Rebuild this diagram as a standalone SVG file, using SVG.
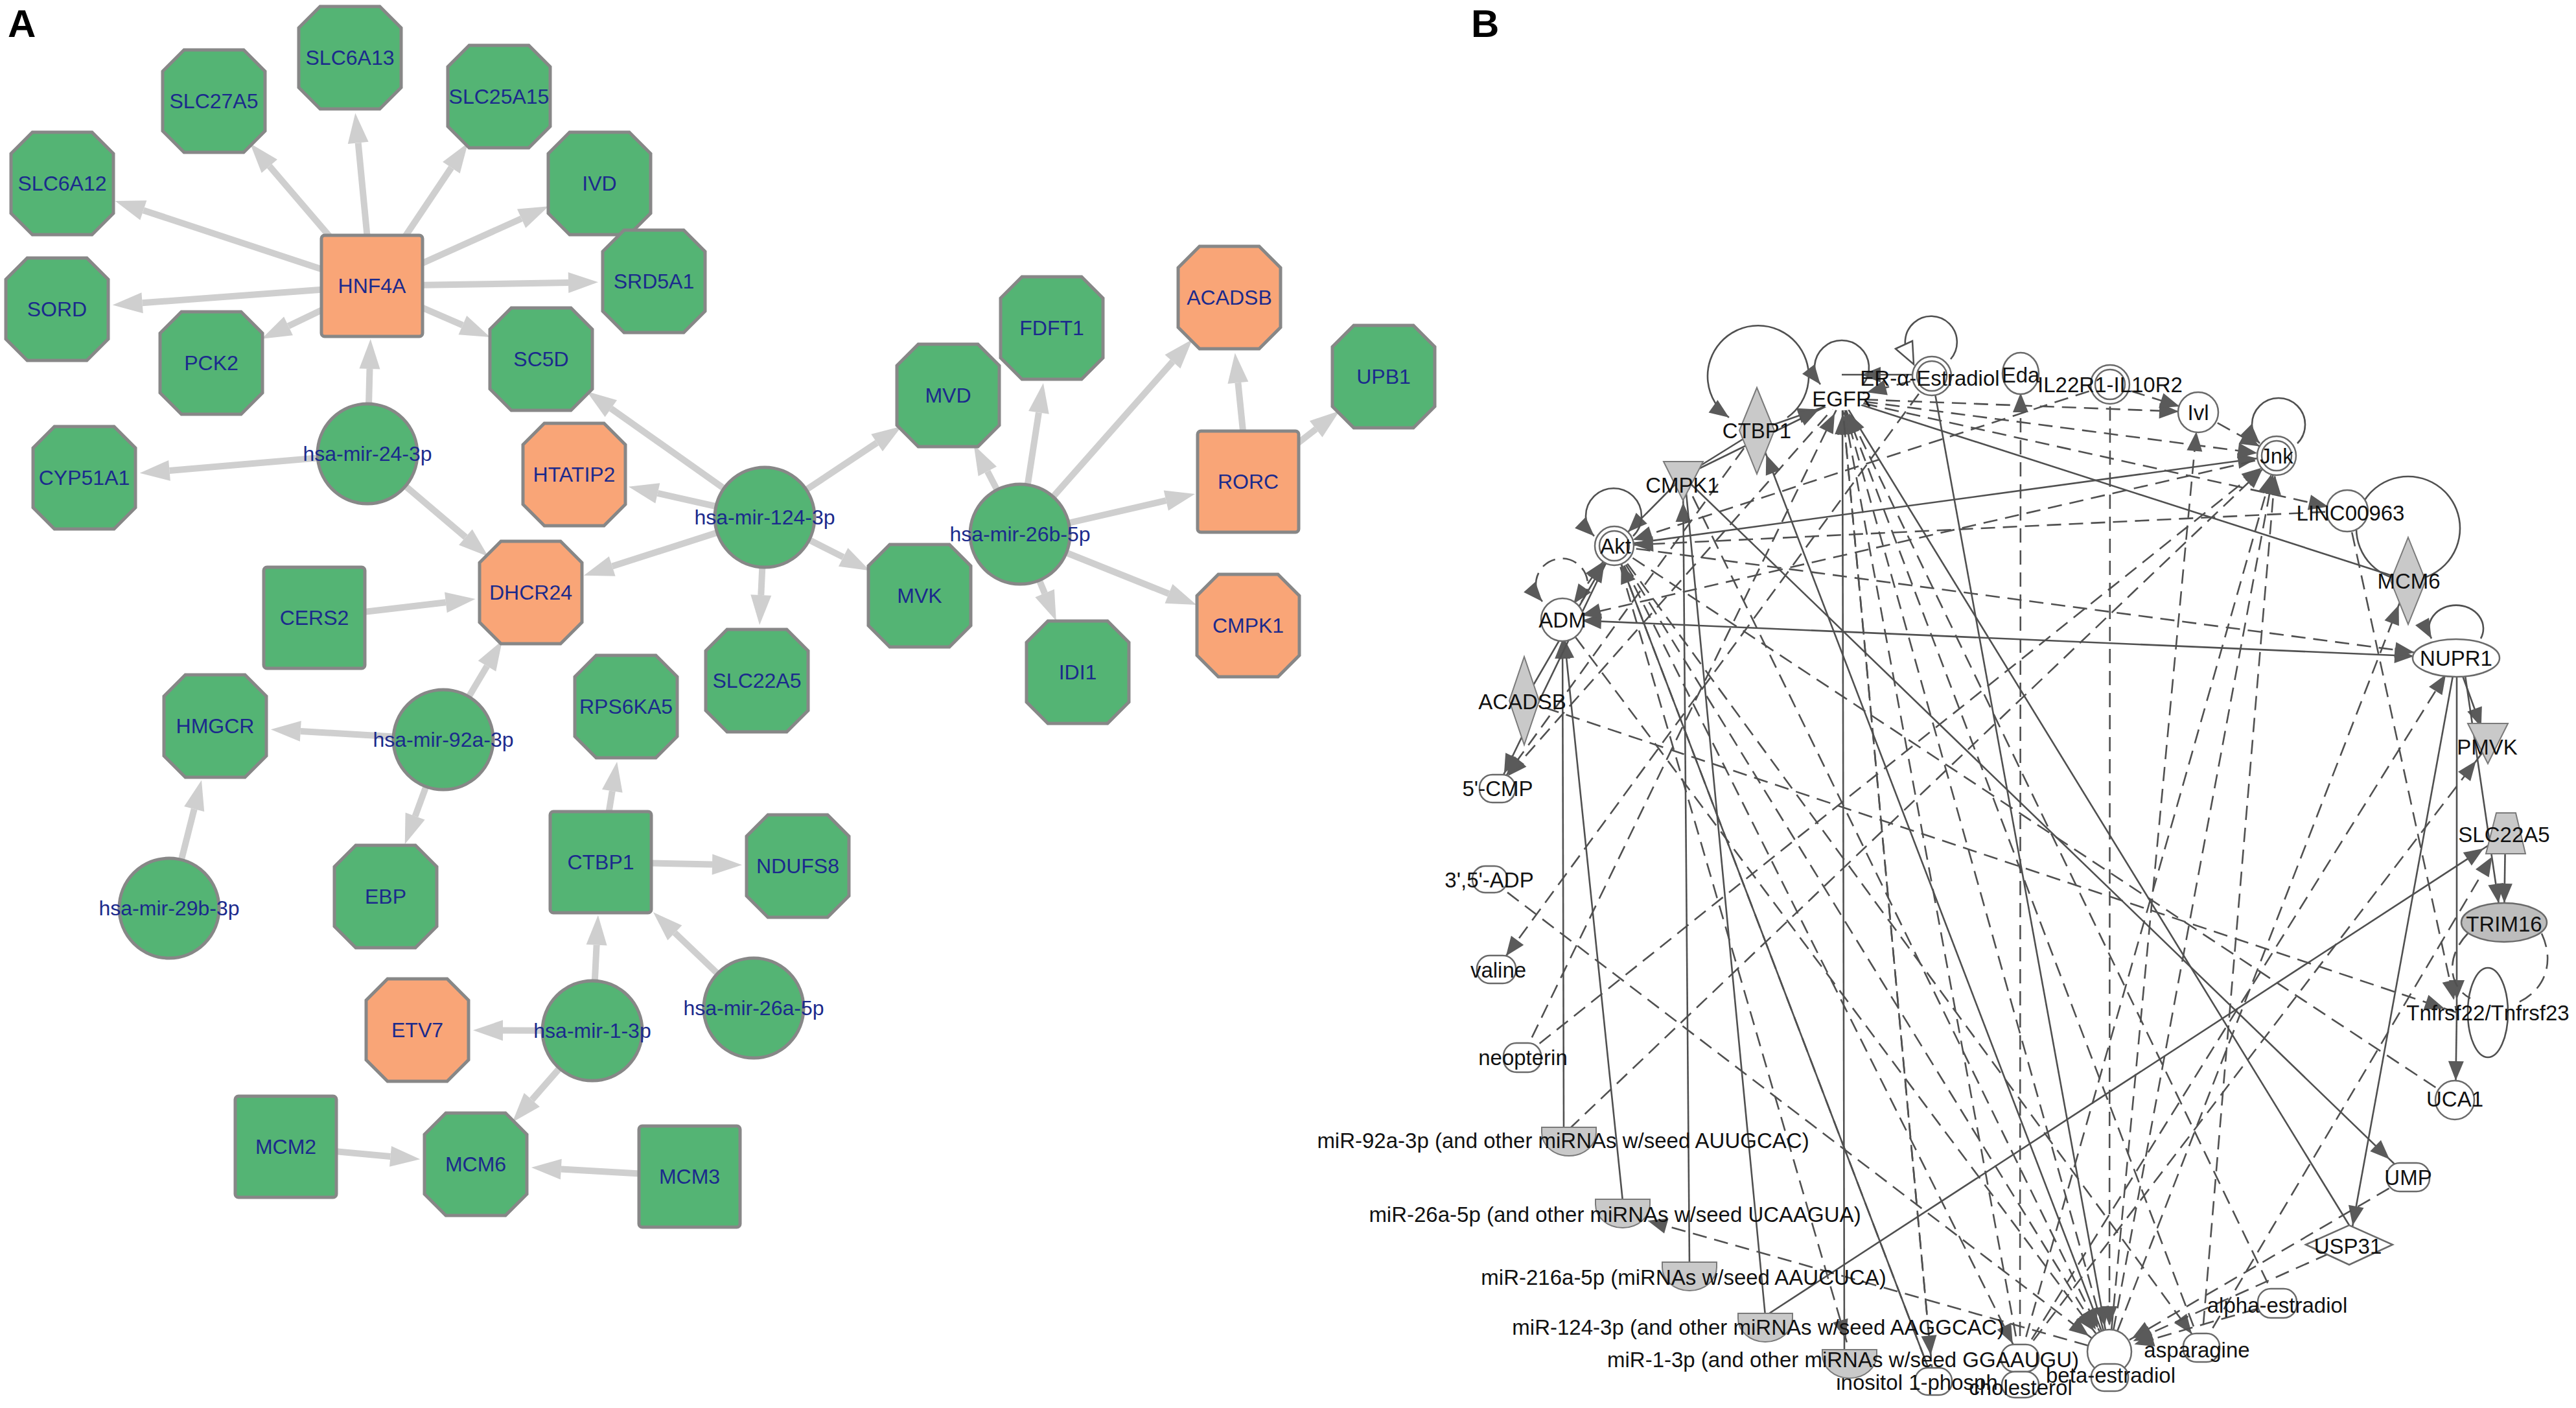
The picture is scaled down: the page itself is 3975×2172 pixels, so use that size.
<svg xmlns="http://www.w3.org/2000/svg" width="3975" height="2172" viewBox="0 0 3975 2172">
<style>
.g{fill:#54b474;stroke:#878787;stroke-width:5}
.o{fill:#f9a577;stroke:#878787;stroke-width:5}
.ta{font-family:"Liberation Sans",Arial,sans-serif;font-size:32px;fill:#1b2a8c;text-anchor:middle}
.ea line{stroke:#cfcfcf;stroke-width:10;fill:none}
.s{stroke:#505050;stroke-width:2.6;fill:none}
.d{stroke:#505050;stroke-width:2.6;fill:none;stroke-dasharray:22 12}
.tb{font-family:"Liberation Sans",Arial,sans-serif;font-size:33px;fill:#111;text-anchor:middle}
.wn{fill:#fff;stroke:#6a6a6a;stroke-width:2.5}
.gn{fill:#c9c9c9;stroke:#7a7a7a;stroke-width:2}
.lab{font-family:"Liberation Sans",Arial,sans-serif;font-weight:bold;font-size:60px;fill:#000}
</style>
<defs>
<polygon id="oct" points="-46,-79 46,-79 79,-46 79,46 46,79 -46,79 -79,46 -79,-46"/>
<marker id="ah" markerUnits="userSpaceOnUse" markerWidth="60" markerHeight="40" refX="0" refY="16" orient="auto" overflow="visible"><path d="M0,0 L46,16 L0,32 z" fill="#cfcfcf"/></marker>
<marker id="b0" markerUnits="userSpaceOnUse" markerWidth="60" markerHeight="30" refX="30" refY="12" orient="auto" overflow="visible"><path d="M0,0 L30,12 L0,24 z" fill="#5a5a5a"/></marker>
<marker id="b20" markerUnits="userSpaceOnUse" markerWidth="60" markerHeight="30" refX="50" refY="12" orient="auto" overflow="visible"><path d="M0,0 L30,12 L0,24 z" fill="#5a5a5a"/></marker>
<marker id="b25" markerUnits="userSpaceOnUse" markerWidth="60" markerHeight="30" refX="55" refY="12" orient="auto" overflow="visible"><path d="M0,0 L30,12 L0,24 z" fill="#5a5a5a"/></marker>
<marker id="b30" markerUnits="userSpaceOnUse" markerWidth="60" markerHeight="30" refX="60" refY="12" orient="auto" overflow="visible"><path d="M0,0 L30,12 L0,24 z" fill="#5a5a5a"/></marker>
<marker id="b40" markerUnits="userSpaceOnUse" markerWidth="60" markerHeight="30" refX="70" refY="12" orient="auto" overflow="visible"><path d="M0,0 L30,12 L0,24 z" fill="#5a5a5a"/></marker>
<marker id="b65" markerUnits="userSpaceOnUse" markerWidth="60" markerHeight="30" refX="95" refY="12" orient="auto" overflow="visible"><path d="M0,0 L30,12 L0,24 z" fill="#5a5a5a"/></marker>
<marker id="bs30" markerUnits="userSpaceOnUse" markerWidth="60" markerHeight="30" refX="60" refY="12" orient="auto-start-reverse" overflow="visible"><path d="M0,0 L30,12 L0,24 z" fill="#5a5a5a"/></marker>
</defs>
<rect x="0" y="0" width="3975" height="2172" fill="#fff"/>
<text class="lab" x="12" y="57">A</text>
<text class="lab" x="2270" y="57">B</text>

<g id="edges-A" class="ea">
<line x1="574" y1="441" x2="221.3" y2="324.4" marker-end="url(#ah)"/>
<line x1="574" y1="441" x2="415.8" y2="256.3" marker-end="url(#ah)"/>
<line x1="574" y1="441" x2="552.7" y2="220.4" marker-end="url(#ah)"/>
<line x1="574" y1="441" x2="696.4" y2="258.6" marker-end="url(#ah)"/>
<line x1="574" y1="441" x2="804.6" y2="337.2" marker-end="url(#ah)"/>
<line x1="574" y1="441" x2="877" y2="436.1" marker-end="url(#ah)"/>
<line x1="574" y1="441" x2="713.9" y2="501.6" marker-end="url(#ah)"/>
<line x1="574" y1="441" x2="445" y2="502.9" marker-end="url(#ah)"/>
<line x1="574" y1="441" x2="219.6" y2="467.2" marker-end="url(#ah)"/>
<line x1="567" y1="700" x2="570.5" y2="569" marker-end="url(#ah)"/>
<line x1="567" y1="700" x2="261.5" y2="725.9" marker-end="url(#ah)"/>
<line x1="567" y1="700" x2="718.4" y2="828.6" marker-end="url(#ah)"/>
<line x1="1180" y1="798" x2="942.8" y2="630.2" marker-end="url(#ah)"/>
<line x1="1180" y1="798" x2="1014.8" y2="760.9" marker-end="url(#ah)"/>
<line x1="1180" y1="798" x2="944.7" y2="873.6" marker-end="url(#ah)"/>
<line x1="1180" y1="798" x2="1353.1" y2="683" marker-end="url(#ah)"/>
<line x1="1180" y1="798" x2="1301.2" y2="859.4" marker-end="url(#ah)"/>
<line x1="1180" y1="798" x2="1174.3" y2="918.1" marker-end="url(#ah)"/>
<line x1="1574" y1="824" x2="1523.8" y2="727.2" marker-end="url(#ah)"/>
<line x1="1574" y1="824" x2="1602.9" y2="636.4" marker-end="url(#ah)"/>
<line x1="1574" y1="824" x2="1809.5" y2="557.9" marker-end="url(#ah)"/>
<line x1="1574" y1="824" x2="1799.3" y2="772.2" marker-end="url(#ah)"/>
<line x1="1574" y1="824" x2="1803.5" y2="915.9" marker-end="url(#ah)"/>
<line x1="1574" y1="824" x2="1612.1" y2="915.2" marker-end="url(#ah)"/>
<line x1="1926" y1="743" x2="1910.4" y2="590.3" marker-end="url(#ah)"/>
<line x1="1926" y1="743" x2="2030.7" y2="661.9" marker-end="url(#ah)"/>
<line x1="485" y1="953" x2="687.9" y2="929.3" marker-end="url(#ah)"/>
<line x1="684" y1="1141" x2="751.5" y2="1027.5" marker-end="url(#ah)"/>
<line x1="684" y1="1141" x2="463.8" y2="1127.9" marker-end="url(#ah)"/>
<line x1="684" y1="1141" x2="640.6" y2="1259.1" marker-end="url(#ah)"/>
<line x1="261" y1="1401" x2="299.7" y2="1248" marker-end="url(#ah)"/>
<line x1="927" y1="1330" x2="944.8" y2="1220.3" marker-end="url(#ah)"/>
<line x1="927" y1="1330" x2="1099" y2="1333.4" marker-end="url(#ah)"/>
<line x1="1163" y1="1555" x2="1041.3" y2="1439" marker-end="url(#ah)"/>
<line x1="914" y1="1590" x2="920.6" y2="1457.8" marker-end="url(#ah)"/>
<line x1="914" y1="1590" x2="776" y2="1589.5" marker-end="url(#ah)"/>
<line x1="914" y1="1590" x2="820.8" y2="1696.6" marker-end="url(#ah)"/>
<line x1="441" y1="1769" x2="602.5" y2="1783.9" marker-end="url(#ah)"/>
<line x1="1064" y1="1815" x2="865.8" y2="1803.6" marker-end="url(#ah)"/>
</g>

<g id="nodes-A">
<g id="a-HNF4A"><rect class="o" x="496" y="363" width="156" height="156" rx="5"/><text class="ta" x="574" y="452">HNF4A</text></g>
<g id="a-SLC6A13"><use href="#oct" x="540" y="89" class="g"/><text class="ta" x="540" y="100">SLC6A13</text></g>
<g id="a-SLC27A5"><use href="#oct" x="330" y="156" class="g"/><text class="ta" x="330" y="167">SLC27A5</text></g>
<g id="a-SLC25A15"><use href="#oct" x="770" y="149" class="g"/><text class="ta" x="770" y="160">SLC25A15</text></g>
<g id="a-SLC6A12"><use href="#oct" x="96" y="283" class="g"/><text class="ta" x="96" y="294">SLC6A12</text></g>
<g id="a-IVD"><use href="#oct" x="925" y="283" class="g"/><text class="ta" x="925" y="294">IVD</text></g>
<g id="a-SRD5A1"><use href="#oct" x="1009" y="434" class="g"/><text class="ta" x="1009" y="445">SRD5A1</text></g>
<g id="a-SORD"><use href="#oct" x="88" y="477" class="g"/><text class="ta" x="88" y="488">SORD</text></g>
<g id="a-PCK2"><use href="#oct" x="326" y="560" class="g"/><text class="ta" x="326" y="571">PCK2</text></g>
<g id="a-SC5D"><use href="#oct" x="835" y="554" class="g"/><text class="ta" x="835" y="565">SC5D</text></g>
<g id="a-mir24"><circle class="g" cx="567" cy="700" r="77"/><text class="ta" x="567" y="711">hsa-mir-24-3p</text></g>
<g id="a-CYP51A1"><use href="#oct" x="130" y="737" class="g"/><text class="ta" x="130" y="748">CYP51A1</text></g>
<g id="a-HTATIP2"><use href="#oct" x="886" y="732" class="o"/><text class="ta" x="886" y="743">HTATIP2</text></g>
<g id="a-DHCR24"><use href="#oct" x="819" y="914" class="o"/><text class="ta" x="819" y="925">DHCR24</text></g>
<g id="a-CERS2"><rect class="g" x="407" y="875" width="156" height="156" rx="5"/><text class="ta" x="485" y="964">CERS2</text></g>
<g id="a-ACADSB"><use href="#oct" x="1897" y="459" class="o"/><text class="ta" x="1897" y="470">ACADSB</text></g>
<g id="a-FDFT1"><use href="#oct" x="1623" y="506" class="g"/><text class="ta" x="1623" y="517">FDFT1</text></g>
<g id="a-MVD"><use href="#oct" x="1463" y="610" class="g"/><text class="ta" x="1463" y="621">MVD</text></g>
<g id="a-UPB1"><use href="#oct" x="2135" y="581" class="g"/><text class="ta" x="2135" y="592">UPB1</text></g>
<g id="a-RORC"><rect class="o" x="1848" y="665" width="156" height="156" rx="5"/><text class="ta" x="1926" y="754">RORC</text></g>
<g id="a-mir124"><circle class="g" cx="1180" cy="798" r="77"/><text class="ta" x="1180" y="809">hsa-mir-124-3p</text></g>
<g id="a-mir26b"><circle class="g" cx="1574" cy="824" r="77"/><text class="ta" x="1574" y="835">hsa-mir-26b-5p</text></g>
<g id="a-MVK"><use href="#oct" x="1419" y="919" class="g"/><text class="ta" x="1419" y="930">MVK</text></g>
<g id="a-CMPK1"><use href="#oct" x="1926" y="965" class="o"/><text class="ta" x="1926" y="976">CMPK1</text></g>
<g id="a-SLC22A5"><use href="#oct" x="1168" y="1050" class="g"/><text class="ta" x="1168" y="1061">SLC22A5</text></g>
<g id="a-IDI1"><use href="#oct" x="1663" y="1037" class="g"/><text class="ta" x="1663" y="1048">IDI1</text></g>
<g id="a-HMGCR"><use href="#oct" x="332" y="1120" class="g"/><text class="ta" x="332" y="1131">HMGCR</text></g>
<g id="a-mir92a"><circle class="g" cx="684" cy="1141" r="77"/><text class="ta" x="684" y="1152">hsa-mir-92a-3p</text></g>
<g id="a-RPS6KA5"><use href="#oct" x="966" y="1090" class="g"/><text class="ta" x="966" y="1101">RPS6KA5</text></g>
<g id="a-CTBP1"><rect class="g" x="849" y="1252" width="156" height="156" rx="5"/><text class="ta" x="927" y="1341">CTBP1</text></g>
<g id="a-EBP"><use href="#oct" x="595" y="1383" class="g"/><text class="ta" x="595" y="1394">EBP</text></g>
<g id="a-mir29b"><circle class="g" cx="261" cy="1401" r="77"/><text class="ta" x="261" y="1412">hsa-mir-29b-3p</text></g>
<g id="a-NDUFS8"><use href="#oct" x="1231" y="1336" class="g"/><text class="ta" x="1231" y="1347">NDUFS8</text></g>
<g id="a-mir26a"><circle class="g" cx="1163" cy="1555" r="77"/><text class="ta" x="1163" y="1566">hsa-mir-26a-5p</text></g>
<g id="a-ETV7"><use href="#oct" x="644" y="1589" class="o"/><text class="ta" x="644" y="1600">ETV7</text></g>
<g id="a-mir1"><circle class="g" cx="914" cy="1590" r="77"/><text class="ta" x="914" y="1601">hsa-mir-1-3p</text></g>
<g id="a-MCM2"><rect class="g" x="363" y="1691" width="156" height="156" rx="5"/><text class="ta" x="441" y="1780">MCM2</text></g>
<g id="a-MCM6"><use href="#oct" x="734" y="1796" class="g"/><text class="ta" x="734" y="1807">MCM6</text></g>
<g id="a-MCM3"><rect class="g" x="986" y="1737" width="156" height="156" rx="5"/><text class="ta" x="1064" y="1826">MCM3</text></g>
</g>

<g id="edges-B">
<line class="s" x1="2711" y1="664" x2="2842" y2="618" marker-end="url(#b40)"/>
<line class="s" x1="2607" y1="1950" x2="2597" y2="735" marker-end="url(#b40)"/>
<line class="s" x1="2724" y1="2030" x2="2600" y2="740"/>
<line class="s" x1="2413" y1="1742" x2="2411" y2="956" marker-end="url(#b30)"/>
<line class="s" x1="2504" y1="1853" x2="2411" y2="956" marker-end="url(#b30)"/>
<line class="s" x1="2846" y1="2085" x2="2843" y2="615" marker-end="url(#b25)"/>
<line class="s" x1="2724" y1="2030" x2="3866" y2="1287" marker-end="url(#b40)"/>
<line class="s" x1="2597" y1="735" x2="3716" y2="1816" marker-end="url(#b40)"/>
<line class="s" x1="2842" y1="615" x2="3625" y2="1890"/>
<line class="s" x1="3790" y1="1015" x2="3625" y2="1920" marker-end="url(#b30)"/>
<line class="s" x1="3790" y1="1015" x2="3839" y2="1150" marker-end="url(#b30)"/>
<line class="s" x1="3800" y1="1015" x2="3860" y2="1423" marker-end="url(#b30)"/>
<line class="s" x1="3866" y1="1287" x2="3864" y2="1423" marker-end="url(#b30)"/>
<line class="s" x1="3791" y1="1015" x2="3791" y2="1562" marker-end="url(#b20)"/>
<line class="s" x1="3791" y1="1562" x2="3789" y2="1697" marker-end="url(#b30)"/>
<line class="s" x1="2411" y1="956" x2="3790" y2="1015" marker-end="url(#b65)" marker-start="url(#bs30)"/>
<line class="s" x1="2491" y1="842" x2="3513" y2="703" marker-end="url(#b30)"/>
<line class="s" x1="2842" y1="615" x2="3716" y2="896"/>
<line class="s" x1="3255" y1="2085" x2="2711" y2="664" marker-end="url(#b40)"/>
<line class="s" x1="2981" y1="580" x2="3255" y2="2085" marker-end="url(#b40)"/>
<line class="s" x1="2491" y1="842" x2="2983" y2="2130"/>
<line class="s" x1="2491" y1="842" x2="2310" y2="1216" marker-end="url(#b25)"/>
<line class="s" x1="2352" y1="1081" x2="2491" y2="842" marker-end="url(#b30)"/>
<line class="s" x1="2597" y1="735" x2="2491" y2="842" marker-end="url(#b30)"/>
<line class="s" x1="2597" y1="735" x2="2842" y2="615" marker-end="url(#b40)"/>
<line class="s" x1="2711" y1="664" x2="2597" y2="735"/>
<line class="s" x1="2981" y1="578" x2="2842" y2="578" marker-end="url(#b30)"/>
<line class="d" x1="2983" y1="2130" x2="2842" y2="615" marker-end="url(#b25)"/>
<line class="d" x1="3117" y1="2095" x2="2842" y2="615" marker-end="url(#b25)"/>
<line class="d" x1="3255" y1="2085" x2="2842" y2="615" marker-end="url(#b25)"/>
<line class="d" x1="3397" y1="2078" x2="2842" y2="615" marker-end="url(#b25)"/>
<line class="d" x1="3514" y1="2010" x2="2842" y2="615" marker-end="url(#b25)"/>
<line class="d" x1="2842" y1="615" x2="3392" y2="636" marker-end="url(#b30)"/>
<line class="d" x1="3256" y1="593" x2="3392" y2="636" marker-end="url(#b30)"/>
<line class="d" x1="3392" y1="636" x2="3513" y2="703" marker-end="url(#b30)"/>
<line class="d" x1="2842" y1="615" x2="3513" y2="703" marker-end="url(#b30)"/>
<line class="d" x1="2842" y1="615" x2="3622" y2="788" marker-end="url(#b30)"/>
<line class="d" x1="3117" y1="2095" x2="3118" y2="576" marker-end="url(#b30)"/>
<line class="d" x1="3255" y1="2085" x2="3392" y2="636" marker-end="url(#b30)"/>
<line class="d" x1="3256" y1="593" x2="2491" y2="842" marker-end="url(#b30)"/>
<line class="d" x1="3622" y1="788" x2="2491" y2="842" marker-end="url(#b30)"/>
<line class="d" x1="3622" y1="788" x2="3791" y2="1562" marker-end="url(#b20)"/>
<line class="d" x1="2352" y1="1081" x2="3791" y2="1562" marker-end="url(#b20)"/>
<line class="d" x1="2491" y1="842" x2="3788" y2="1697"/>
<line class="d" x1="3117" y1="2095" x2="3513" y2="703" marker-end="url(#b30)"/>
<line class="d" x1="3397" y1="2078" x2="3513" y2="703" marker-end="url(#b30)"/>
<line class="d" x1="3255" y1="2085" x2="3513" y2="703" marker-end="url(#b30)"/>
<line class="d" x1="2421" y1="1742" x2="3513" y2="703" marker-end="url(#b30)"/>
<line class="d" x1="2349" y1="1631" x2="3513" y2="703" marker-end="url(#b30)"/>
<line class="d" x1="2349" y1="1631" x2="2842" y2="615" marker-end="url(#b25)"/>
<line class="d" x1="2981" y1="580" x2="2309" y2="1495" marker-end="url(#b25)"/>
<line class="d" x1="2299" y1="1356" x2="3255" y2="2085" marker-end="url(#b40)"/>
<line class="d" x1="2842" y1="615" x2="2310" y2="1216" marker-end="url(#b25)"/>
<line class="d" x1="3255" y1="2085" x2="2504" y2="1872" marker-end="url(#b40)"/>
<line class="d" x1="2491" y1="842" x2="2854" y2="2085" marker-end="url(#b20)"/>
<line class="d" x1="2842" y1="615" x2="2983" y2="2130" marker-end="url(#b40)"/>
<line class="d" x1="2491" y1="842" x2="3397" y2="2078" marker-end="url(#b25)"/>
<line class="d" x1="3514" y1="2010" x2="3255" y2="2085" marker-end="url(#b40)"/>
<line class="d" x1="3716" y1="1816" x2="3255" y2="2085" marker-end="url(#b40)"/>
<line class="d" x1="3625" y1="1920" x2="3255" y2="2085" marker-end="url(#b40)"/>
<line class="d" x1="3255" y1="2085" x2="3716" y2="896" marker-end="url(#b40)"/>
<line class="d" x1="3117" y1="2095" x2="3839" y2="1150" marker-end="url(#b30)"/>
<line class="d" x1="3397" y1="2078" x2="3866" y2="1287" marker-end="url(#b40)"/>
<line class="d" x1="3117" y1="2095" x2="3790" y2="1015" marker-end="url(#b30)"/>
<line class="d" x1="2491" y1="842" x2="3790" y2="1015" marker-end="url(#b65)"/>
<line class="d" x1="2411" y1="956" x2="2491" y2="842" marker-end="url(#b30)" marker-start="url(#bs30)"/>
<line class="d" x1="2491" y1="842" x2="3255" y2="2085" marker-end="url(#b40)"/>
<line class="d" x1="2411" y1="956" x2="3255" y2="2085" marker-end="url(#b40)"/>
<line class="d" x1="2597" y1="735" x2="3255" y2="2085" marker-end="url(#b40)"/>
<line class="d" x1="2491" y1="842" x2="3117" y2="2095" marker-end="url(#b25)"/>
<line class="d" x1="2983" y1="2130" x2="2491" y2="842" marker-end="url(#b30)"/>
<line class="d" x1="3256" y1="593" x2="3255" y2="2085" marker-end="url(#b40)"/>
<line class="d" x1="2981" y1="580" x2="2842" y2="615" marker-end="url(#b40)"/>
<line class="d" x1="3513" y1="703" x2="2411" y2="956" marker-end="url(#b30)"/>
<line class="d" x1="2711" y1="664" x2="2310" y2="1216" marker-end="url(#b25)"/>
<path class="s" d="M2758,644 A78,78 0 1 0 2668,644" marker-end="url(#b0)"/>
<path class="s" d="M2875,593 A42,42 0 1 0 2809,593" marker-end="url(#b0)"/>
<path class="s" d="M3010,554 A40,40 0 1 0 2948,552"/>
<polygon points="2925,538 2951,526 2953,562" fill="#fff" stroke="#505050" stroke-width="2.5"/>
<path class="s" d="M2520,827 A43,43 0 1 0 2460,827" marker-end="url(#b0)"/>
<path class="d" d="M2440,928 A40,40 0 1 0 2380,928" marker-end="url(#b0)"/>
<path class="s" d="M3545,684 A41,41 0 1 0 3487,684" marker-end="url(#b0)"/>
<circle class="s" cx="3716" cy="815" r="80"/>
<path class="s" d="M3828,985 A42,36 0 1 0 3752,985" marker-end="url(#b0)"/>
<ellipse class="s" cx="3839" cy="1562" rx="31" ry="69" stroke-width="2"/>
<path class="d" d="M3808,1440 C3770,1480 3782,1525 3812,1540"/>
<path class="d" d="M3922,1440 C3945,1490 3922,1532 3882,1548"/>
</g>

<g id="nodes-B">
<g id="b-EGFR"><ellipse cx="2842" cy="615" rx="36" ry="18" fill="#fff"/><text class="tb" x="2842" y="627">EGFR</text></g>
<g id="b-CTBP1"><polygon class="gn" points="2711,598 2738,664 2711,731 2684,664"/><text class="tb" x="2711" y="676">CTBP1</text></g>
<g id="b-CMPK1"><polygon class="gn" points="2567,712 2628,712 2597,772"/><text class="tb" x="2596" y="760">CMPK1</text></g>
<g id="b-ER"><circle class="wn" cx="2981" cy="580" r="30"/><circle class="wn" cx="2981" cy="580" r="23"/><text class="tb" x="2978" y="595">ER-α-Estradiol</text></g>
<g id="b-Eda"><ellipse class="wn" cx="3118" cy="576" rx="28" ry="32"/><text class="tb" x="3118" y="590">Eda</text></g>
<g id="b-IL22"><circle class="wn" cx="3256" cy="593" r="30"/><circle class="wn" cx="3256" cy="593" r="23"/><text class="tb" x="3256" y="605">IL22R1-IL10R2</text></g>
<g id="b-Ivl"><circle class="wn" cx="3392" cy="636" r="31"/><text class="tb" x="3392" y="648">Ivl</text></g>
<g id="b-Jnk"><circle class="wn" cx="3513" cy="703" r="30"/><circle class="wn" cx="3513" cy="703" r="23"/><text class="tb" x="3513" y="715">Jnk</text></g>
<g id="b-LINC"><circle class="wn" cx="3622" cy="788" r="32"/><text class="tb" x="3627" y="803">LINC00963</text></g>
<g id="b-MCM6"><polygon class="gn" points="3716,829 3743,896 3716,963 3689,896"/><text class="tb" x="3717" y="908">MCM6</text></g>
<g id="b-NUPR1"><ellipse class="wn" cx="3790" cy="1015" rx="67" ry="29"/><text class="tb" x="3790" y="1027">NUPR1</text></g>
<g id="b-PMVK"><polygon class="gn" points="3808,1116 3870,1116 3839,1178"/><text class="tb" x="3838" y="1164">PMVK</text></g>
<g id="b-SLC22A5"><polygon class="gn" points="3852,1254 3882,1254 3897,1317 3836,1317"/><text class="tb" x="3864" y="1299">SLC22A5</text></g>
<g id="b-TRIM16"><ellipse cx="3864" cy="1423" rx="66" ry="30" fill="#bdbdbd" stroke="#6a6a6a" stroke-width="2.5"/><text class="tb" x="3864" y="1437">TRIM16</text></g>
<g id="b-Tnfrsf"><text class="tb" x="3839" y="1574">Tnfrsf22/Tnfrsf23</text></g>
<g id="b-UCA1"><circle class="wn" cx="3788" cy="1697" r="30"/><text class="tb" x="3788" y="1707">UCA1</text></g>
<g id="b-UMP"><rect class="wn" x="3683" y="1794" width="66" height="44" rx="20"/><text class="tb" x="3716" y="1828">UMP</text></g>
<g id="b-USP31"><polygon class="wn" points="3558,1920 3625,1890 3692,1920 3625,1951"/><text class="tb" x="3623" y="1934">USP31</text></g>
<g id="b-alpha"><rect class="wn" x="3484" y="1988" width="60" height="45" rx="20"/><text class="tb" x="3514" y="2025">alpha-estradiol</text></g>
<g id="b-asparagine"><rect class="wn" x="3369" y="2057" width="56" height="44" rx="20"/><text class="tb" x="3390" y="2094">asparagine</text></g>
<g id="b-beta"><circle class="wn" cx="3255" cy="2085" r="34"/><rect class="wn" x="3227" y="2104" width="57" height="42" rx="20"/><text class="tb" x="3257" y="2133">beta-estradiol</text></g>
<g id="b-chol"><rect class="wn" x="3088" y="2074" width="58" height="42" rx="20"/><rect class="wn" x="3089" y="2116" width="57" height="40" rx="20"/><text class="tb" x="3118" y="2152">cholesterol</text></g>
<g id="b-inositol"><rect class="wn" x="2955" y="2110" width="57" height="42" rx="20"/><text class="tb" x="2958" y="2144">inositol 1-phosph</text></g>
<g id="b-miR1"><path class="gn" d="M2812,2082 H2896 V2090 A42,36 0 0 1 2812,2090 Z"/><text class="tb" x="2844" y="2109">miR-1-3p (and other miRNAs w/seed GGAAUGU)</text></g>
<g id="b-miR124"><path class="gn" d="M2682,2026 H2766 V2034 A42,36 0 0 1 2682,2034 Z"/><text class="tb" x="2713" y="2059">miR-124-3p (and other miRNAs w/seed AAGGCAC)</text></g>
<g id="b-miR216"><path class="gn" d="M2565,1947 H2649 V1955 A42,36 0 0 1 2565,1955 Z"/><text class="tb" x="2598" y="1982">miR-216a-5p (miRNAs w/seed AAUCUCA)</text></g>
<g id="b-miR26"><path class="gn" d="M2462,1850 H2546 V1858 A42,36 0 0 1 2462,1858 Z"/><text class="tb" x="2492" y="1885">miR-26a-5p (and other miRNAs w/seed UCAAGUA)</text></g>
<g id="b-miR92"><path class="gn" d="M2379,1739 H2463 V1747 A42,36 0 0 1 2379,1747 Z"/><text class="tb" x="2412" y="1771">miR-92a-3p (and other miRNAs w/seed AUUGCAC)</text></g>
<g id="b-neopterin"><rect class="wn" x="2320" y="1609" width="58" height="45" rx="20"/><text class="tb" x="2350" y="1643">neopterin</text></g>
<g id="b-valine"><rect class="wn" x="2279" y="1474" width="60" height="43" rx="20"/><text class="tb" x="2312" y="1508">valine</text></g>
<g id="b-ADP"><rect class="wn" x="2272" y="1336" width="54" height="41" rx="20"/><text class="tb" x="2298" y="1369">3',5'-ADP</text></g>
<g id="b-CMP"><rect class="wn" x="2283" y="1195" width="55" height="43" rx="20"/><text class="tb" x="2311" y="1228">5'-CMP</text></g>
<g id="b-ACADSB"><polygon class="gn" points="2352,1013 2375,1081 2352,1149 2329,1081"/><text class="tb" x="2349" y="1094">ACADSB</text></g>
<g id="b-ADM"><circle class="wn" cx="2411" cy="956" r="33"/><text class="tb" x="2411" y="968">ADM</text></g>
<g id="b-Akt"><circle class="wn" cx="2491" cy="842" r="30"/><circle class="wn" cx="2491" cy="842" r="23"/><text class="tb" x="2493" y="854">Akt</text></g>
</g>
</svg>
